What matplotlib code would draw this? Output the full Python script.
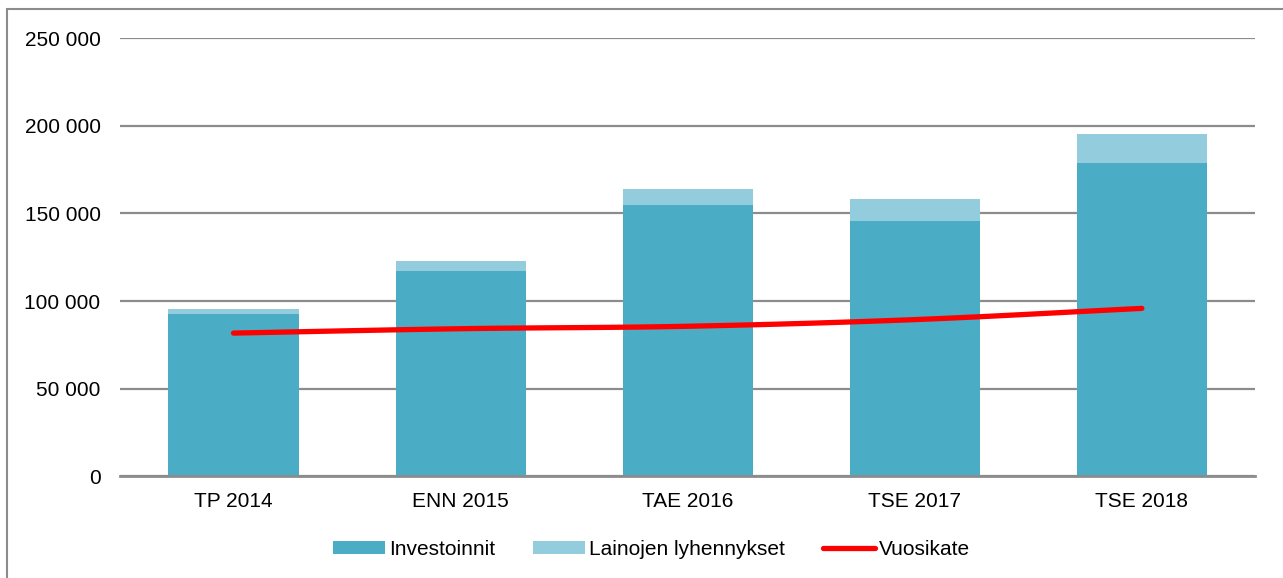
import numpy as np
import matplotlib.pyplot as plt
from matplotlib.ticker import FuncFormatter
from matplotlib.patches import Rectangle

plt.rcParams['font.family'] = ['Liberation Sans', 'DejaVu Sans']

# --- data ---
kategoriat = ['TP 2014', 'ENN 2015', 'TAE 2016', 'TSE 2017', 'TSE 2018']
investoinnit = [92500, 117400, 154700, 145600, 178800]
lyhennykset = [2700, 5200, 9000, 12600, 16400]
vuosikate = [81700, 84200, 85600, 89400, 95800]

def pehmea(x, y, n=30):
    # Catmull-Rom käyrä pisteiden läpi (Excelin "tasoitettu viiva")
    x = np.asarray(x, float)
    y = np.asarray(y, float)
    px = np.concatenate([[2 * x[0] - x[1]], x, [2 * x[-1] - x[-2]]])
    py = np.concatenate([[2 * y[0] - y[1]], y, [2 * y[-1] - y[-2]]])
    xs, ys = [], []
    for i in range(1, len(px) - 2):
        t = np.linspace(0, 1, n)
        for p, out in ((px, xs), (py, ys)):
            p0, p1, p2, p3 = p[i - 1], p[i], p[i + 1], p[i + 2]
            out.extend(0.5 * (2 * p1 + (-p0 + p2) * t
                              + (2 * p0 - 5 * p1 + 4 * p2 - p3) * t ** 2
                              + (-p0 + 3 * p1 - 3 * p2 + p3) * t ** 3))
    return np.array(xs), np.array(ys)

fig = plt.figure(figsize=(12.83, 5.78), dpi=100)
ax = fig.add_axes([0.0935, 0.176, 0.885, 0.758])

# kehys koko kuvan ympärillä
fig.patches.append(Rectangle((7 / 1283, -0.05), 1.1, 1 - 9 / 578 + 0.05,
                             transform=fig.transFigure, fill=False,
                             edgecolor='#8c8c8c', linewidth=1.5))

x = np.arange(len(kategoriat))
b1 = ax.bar(x, investoinnit, width=0.573, color='#4BACC6', label='Investoinnit', zorder=2)
b2 = ax.bar(x, lyhennykset, width=0.573, bottom=investoinnit, color='#93CDDD',
            label='Lainojen lyhennykset', zorder=2)
sx, sy = pehmea(x, vuosikate)
l1, = ax.plot(sx, sy, color='#FF0000', linewidth=3.8, solid_capstyle='round',
              label='Vuosikate', zorder=3)

ax.set_xlim(-0.5, 4.5)
ax.set_ylim(0, 250000)
ax.set_yticks(np.arange(0, 250001, 50000))
ax.yaxis.set_major_formatter(FuncFormatter(lambda v, p: f'{int(v):,}'.replace(',', ' ')))
ax.set_xticks(x)
ax.set_xticklabels(kategoriat)
ax.tick_params(axis='both', length=0, labelsize=15, colors='black')
ax.tick_params(axis='y', pad=14)
ax.tick_params(axis='x', pad=11)
ax.grid(axis='y', color='#8c8c8c', linewidth=1.6, zorder=0)
for s in ['top', 'right', 'left']:
    ax.spines[s].set_visible(False)
ax.spines['bottom'].set_color('#8c8c8c')
ax.spines['bottom'].set_linewidth(2)

fig.legend(handles=[b1, b2, l1], loc='center', bbox_to_anchor=(0.508, 0.05),
           ncol=3, frameon=False, fontsize=15, handlelength=2.5, handleheight=0.55,
           handletextpad=0.2, columnspacing=1.8)

fig.savefig('out.png', dpi=100)
